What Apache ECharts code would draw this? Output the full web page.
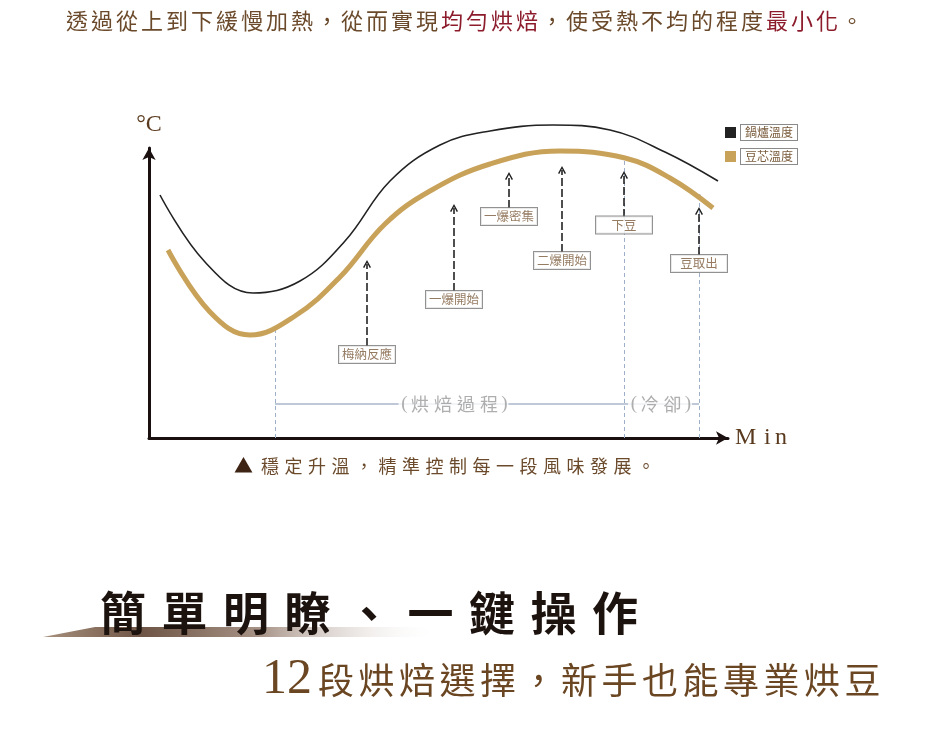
<!DOCTYPE html>
<html><head><meta charset="utf-8">
<script src="https://cdn.jsdelivr.net/npm/echarts@6/dist/echarts.min.js"></script>
<style>html,body{margin:0;padding:0;background:#fff}#main{width:950px;height:729px}</style>
</head><body><div id="main"></div>
<script>
// ---- data (x: minutes, y: temperature, arbitrary units) ----
const boilerTemp = [[1.1,243],[5.6,176],[10.4,145],[15.1,157],[19.6,197],[24.1,257],[29.1,293],[34.1,307],[40.4,313],[46.1,308],[51.6,286],[56.9,257]];
const beanTemp = [[1.9,188],[6.1,126],[10.1,103],[14.6,122],[19.1,161],[23.6,214],[28.1,247],[34.1,274],[41.1,287],[47.6,280],[52.1,260],[56.4,230]];
const seriesNames = ['鍋爐溫度','豆芯溫度'];
const eventNames = ['梅納反應','一爆開始','一爆密集','二爆開始','下豆','豆取出'];
const eventX = [21.8,30.5,36.0,41.3,47.5,55.0];
const eventArrowTop = [174,230,262,268,263,227];
const eventBoxTop = [92,147,230,186,221,183];
const eventBoxCenter = [83.5,138.5,221.5,177.5,213,174.5];
const guideX = [12.6,47.5,55.0];
const guideTop = [110,280,242];
const phaseNames = ['(烘焙過程)','(冷卻)'];
const phaseX = [30.45,51.1];
const phaseY = 34;
const phaseStart = 12.6, phaseEnd = 55.0;
const headlineParts = [['透過從上到下緩慢加熱，從而實現','b'],['均勻烘焙','r'],['，使受熱不均的程度','b'],['最小化','r'],['。','b']];
const captionMark = '▲';
const captionText = '穩定升溫，精準控制每一段風味發展。';
const bigTitle = '簡單明瞭、一鍵操作';
const subNumber = '12';
const subText = '段烘焙選擇，新手也能專業烘豆';
const xName = 'Min';
const yName = '°C';

const CJK = '"Noto Sans CJK TC","Noto Sans CJK SC",sans-serif';
const SERIF = '"Liberation Serif","DejaVu Serif",serif';
const BROWN = '#6b4a2b';

function spaced(str, key){ return Array.from(str).map(ch => '{' + key + '|' + ch + '}').join(''); }

const chart = echarts.init(document.getElementById('main'));

const minWidths = [29, 11, 14];
const xNameRich = {};
minWidths.forEach((w,i) => { xNameRich['k' + i] = {fontFamily:SERIF, fontSize:24, color:'#5a3a1e', width:w}; });

const option = {
  backgroundColor:'#fff',
  animation:false,
  grid:{left:149, right:222, top:148, bottom:291},
  legend:{
    data:seriesNames, orient:'vertical', left:720, top:119, itemWidth:11, itemHeight:11,
    icon:'rect', selectedMode:false, itemGap:7,
    textStyle:{fontFamily:CJK, fontSize:12, color:'#7a5c3c', borderColor:'#8a8a8a', borderWidth:1, padding:[2,4,1,4], backgroundColor:'#fff'}
  },
  xAxis:{type:'value', min:0, max:57.9,
    name:Array.from(xName).map((ch,i) => '{k' + i + '|' + ch + '}').join(''), nameLocation:'end', nameGap:7,
    nameTextStyle:{verticalAlign:'middle', rich:xNameRich},
    axisLine:{show:true, onZero:false, symbol:['none','arrow'], symbolSize:[10,12], lineStyle:{color:'#1a1010', width:3}},
    axisTick:{show:false}, axisLabel:{show:false}, splitLine:{show:false}},
  yAxis:{type:'value', min:0, max:290, name:yName, nameLocation:'end', nameGap:11,
    nameTextStyle:{fontFamily:SERIF, fontSize:24, color:'#5a3a1e', align:'center'},
    axisLine:{show:true, onZero:false, symbol:['none','arrow'], symbolSize:[10,12], lineStyle:{color:'#1a1010', width:3}},
    axisTick:{show:false}, axisLabel:{show:false}, splitLine:{show:false}},
  graphic:[
    {type:'polygon', z:1, shape:{points:[[43,637],[95,627],[440,627],[440,637]]},
      style:{fill:new echarts.graphic.LinearGradient(0,0,1,0,[
        {offset:0,color:'#a8907e'},{offset:0.25,color:'#6e5545'},{offset:0.55,color:'#a89488'},{offset:1,color:'rgba(255,255,255,0)'}])}},
    {type:'text', z:10, x:66, y:21, style:{
      text: headlineParts.map(p => spaced(p[0], p[1])).join(''),
      verticalAlign:'middle', align:'left',
      rich:{b:{fontFamily:CJK, fontSize:22, fill:BROWN, color:BROWN, width:25}, r:{fontFamily:CJK, fontSize:22, fill:'#8c1c2c', color:'#8c1c2c', width:25}}}},
    {type:'text', z:10, x:234, y:466, style:{
      text: spaced(captionMark,'m') + spaced(captionText,'c'),
      verticalAlign:'middle', align:'left',
      rich:{m:{fontFamily:CJK, fontSize:19, fill:'#3e2414', color:'#3e2414', width:27}, c:{fontFamily:CJK, fontSize:18, fill:BROWN, color:BROWN, width:23.5}}}},
    {type:'text', z:10, x:100, y:613, style:{
      text: spaced(bigTitle,'t'),
      verticalAlign:'middle', align:'left',
      rich:{t:{fontFamily:CJK, fontSize:46, fontWeight:'bold', fill:'#1c120e', color:'#1c120e', width:61.5}}}},
    {type:'text', z:10, x:262, y:680, style:{
      text: '{n|' + subNumber + '}' + spaced(subText,'s'),
      verticalAlign:'middle', align:'left',
      rich:{n:{fontFamily:SERIF, fontSize:50, fill:'#6b4622', color:'#6b4622', width:56}, s:{fontFamily:CJK, fontSize:36, fill:'#6b4622', color:'#6b4622', width:40.5}}}}
  ],
  series:[
    {type:'lines', coordinateSystem:'cartesian2d', z:2, silent:true,
      data: guideX.map((x,i) => ({coords:[[x,0],[x,guideTop[i]]]})),
      symbol:['none','circle'], symbolSize:4,
      lineStyle:{color:'#9eb0c9', width:1, type:[4,3], opacity:1}},
    {type:'lines', coordinateSystem:'cartesian2d', z:2, silent:true,
      data:[{coords:[[phaseStart,phaseY],[phaseEnd,phaseY]]}],
      symbol:'none', lineStyle:{color:'#a9b6ca', width:1.5, opacity:1}},
    {name:seriesNames[0], type:'line', z:3, data:boilerTemp, smooth:0.4, symbol:'none', clip:false,
      color:'#222', lineStyle:{color:'#222', width:1.6}},
    {name:seriesNames[1], type:'line', z:3, data:beanTemp, smooth:0.4, symbol:'none', clip:false,
      color:'#c9a25a', lineStyle:{color:'#c9a25a', width:5}},
    {type:'lines', coordinateSystem:'cartesian2d', z:4, silent:true,
      data: eventX.map((x,i) => ({coords:[[x,eventBoxTop[i]],[x,eventArrowTop[i]]]})),
      symbol:['none','path://M0,9 L5,0 L10,9 L8.4,9.8 L5,3.4 L1.6,9.8 Z'], symbolSize:[9,8],
      lineStyle:{color:'#222', width:1.6, type:[8,3], opacity:1}},
    {type:'scatter', z:5, silent:true, symbolSize:1, itemStyle:{color:'rgba(0,0,0,0)'},
      data: eventX.map((x,i) => ({value:[x,eventBoxCenter[i]], name:eventNames[i]})),
      label:{show:true, position:'inside', formatter:p => p.name, fontFamily:CJK, fontSize:12.5, lineHeight:13,
        color:'#7a5a3a', width:48, align:'center', padding:[2,4], borderColor:'#777', borderWidth:1, backgroundColor:'#fff'}},
    {type:'scatter', z:5, silent:true, symbolSize:1, itemStyle:{color:'rgba(0,0,0,0)'},
      data: phaseX.map((x,i) => ({value:[x,phaseY], name:phaseNames[i]})),
      label:{show:true, position:'inside', backgroundColor:'#fff', padding:[0,0,0,2],
        formatter:p => Array.from(p.name).map(ch => (ch==='('||ch===')') ? '{p|'+ch+'}' : '{c|'+ch+'}').join(''),
        rich:{p:{fontFamily:SERIF, fontSize:19, color:'#9a9a9a', width:8}, c:{fontFamily:CJK, fontSize:18, color:'#9a9a9a', width:23}}}}
  ]
};
chart.setOption(option);
</script></body></html>
